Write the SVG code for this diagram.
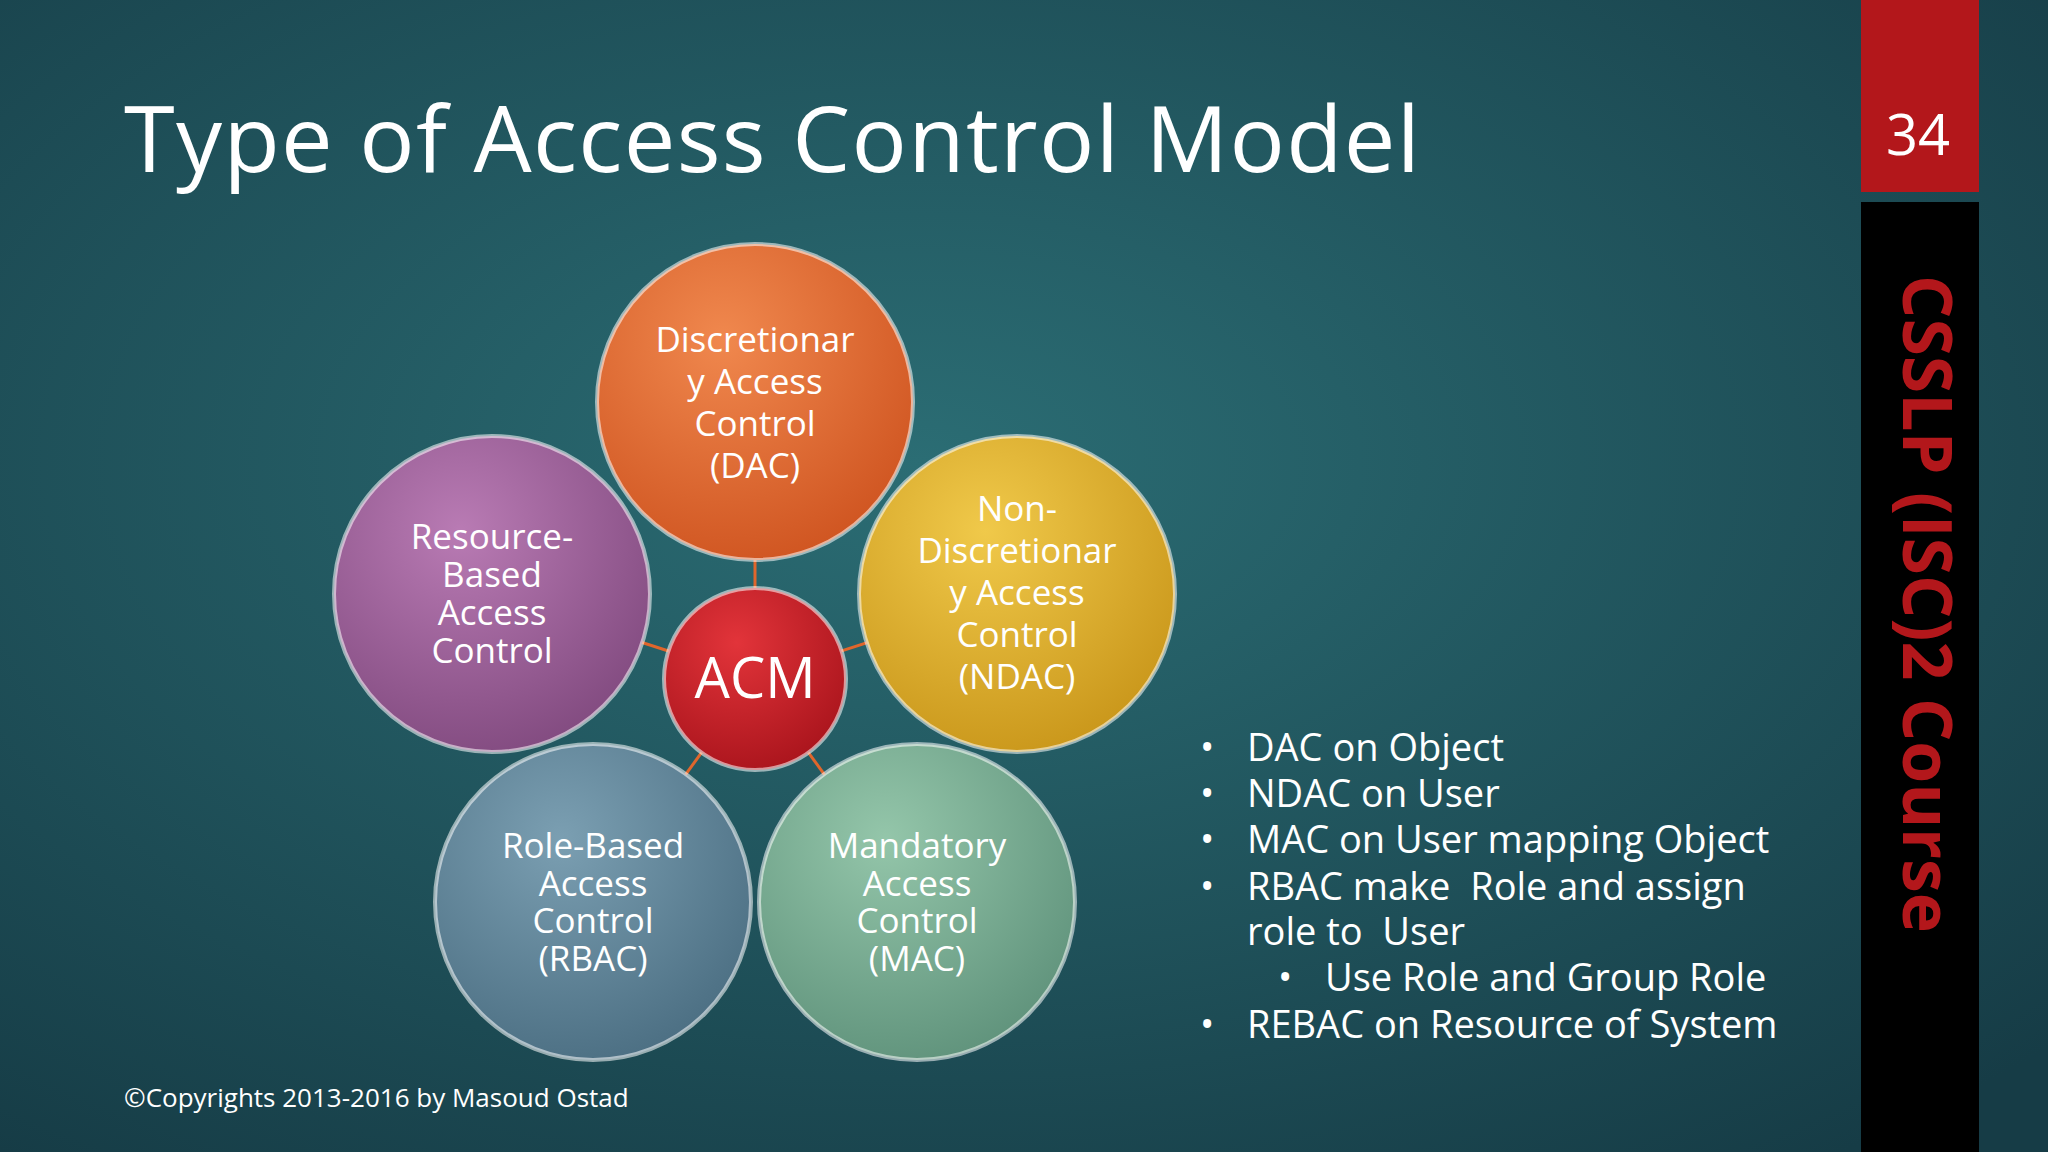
<svg xmlns="http://www.w3.org/2000/svg" width="2048" height="1152" viewBox="0 0 2048 1152">
<defs>
<radialGradient id="bg" cx="0.45" cy="0.4" r="0.75">
<stop offset="0" stop-color="#2b6d74"/><stop offset="1" stop-color="#163c46"/>
</radialGradient>
<radialGradient id="gDAC" cx="0.4" cy="0.3" r="0.75"><stop offset="0" stop-color="#f0884e"/><stop offset="1" stop-color="#cf5420"/></radialGradient>
<radialGradient id="gNDAC" cx="0.4" cy="0.3" r="0.75"><stop offset="0" stop-color="#f0c94a"/><stop offset="1" stop-color="#c9961a"/></radialGradient>
<radialGradient id="gRES" cx="0.4" cy="0.3" r="0.75"><stop offset="0" stop-color="#b97bb4"/><stop offset="1" stop-color="#814a7f"/></radialGradient>
<radialGradient id="gRBAC" cx="0.4" cy="0.3" r="0.75"><stop offset="0" stop-color="#7b9fb2"/><stop offset="1" stop-color="#4b6e82"/></radialGradient>
<radialGradient id="gMAC" cx="0.4" cy="0.3" r="0.75"><stop offset="0" stop-color="#94c6aa"/><stop offset="1" stop-color="#5f927b"/></radialGradient>
<radialGradient id="gACM" cx="0.4" cy="0.3" r="0.75"><stop offset="0" stop-color="#e2343a"/><stop offset="1" stop-color="#a9141c"/></radialGradient>
</defs>
<style>
.c{stroke:#ffffff;stroke-opacity:0.55;stroke-width:4}
.t{font-family:"Open Sans","Liberation Sans",sans-serif;fill:#fff;text-anchor:middle;font-size:35px}
.b{font-family:"Open Sans","Liberation Sans",sans-serif;fill:#fff;font-size:38px}
.ln{stroke:#e0662c;stroke-width:3}
</style>
<rect width="2048" height="1152" fill="url(#bg)"/>
<text x="124" y="172" font-family="'Open Sans','Liberation Sans',sans-serif" font-size="92" fill="#fff" textLength="1296" lengthAdjust="spacing">Type of Access Control Model</text>
<rect x="1861" y="0" width="118" height="192" fill="#b3171b"/>
<text x="1918" y="155" font-family="'Open Sans','Liberation Sans',sans-serif" font-size="56" fill="#fff" text-anchor="middle">34</text>
<rect x="1861" y="202" width="118" height="950" fill="#000"/>
<text transform="translate(1903,604) rotate(90)" font-family="'Open Sans','Liberation Sans',sans-serif" font-weight="bold" font-size="68" fill="#b3171b" text-anchor="middle">CSSLP (ISC)2 Course</text>
<g id="connectors">
<line class="ln" x1="755" y1="679" x2="755" y2="402"/>
<line class="ln" x1="755" y1="679" x2="1017" y2="594"/>
<line class="ln" x1="755" y1="679" x2="492" y2="594"/>
<line class="ln" x1="755" y1="679" x2="593" y2="902"/>
<line class="ln" x1="755" y1="679" x2="917" y2="902"/>
</g>
<g id="dac"><circle class="c" cx="755" cy="402" r="158" fill="url(#gDAC)"/>
<text class="t" x="755" y="352">Discretionar</text><text class="t" x="755" y="394">y Access</text><text class="t" x="755" y="436">Control</text><text class="t" x="755" y="478">(DAC)</text></g>
<g id="ndac"><circle class="c" cx="1017" cy="594" r="158" fill="url(#gNDAC)"/>
<text class="t" x="1017" y="521">Non-</text><text class="t" x="1017" y="563">Discretionar</text><text class="t" x="1017" y="605">y Access</text><text class="t" x="1017" y="647">Control</text><text class="t" x="1017" y="689">(NDAC)</text></g>
<g id="res"><circle class="c" cx="492" cy="594" r="158" fill="url(#gRES)"/>
<text class="t" x="492" y="549">Resource-</text><text class="t" x="492" y="587">Based</text><text class="t" x="492" y="625">Access</text><text class="t" x="492" y="663">Control</text></g>
<g id="rbac"><circle class="c" cx="593" cy="902" r="158" fill="url(#gRBAC)"/>
<text class="t" x="593" y="858">Role-Based</text><text class="t" x="593" y="896">Access</text><text class="t" x="593" y="933">Control</text><text class="t" x="593" y="971">(RBAC)</text></g>
<g id="mac"><circle class="c" cx="917" cy="902" r="158" fill="url(#gMAC)"/>
<text class="t" x="917" y="858">Mandatory</text><text class="t" x="917" y="896">Access</text><text class="t" x="917" y="933">Control</text><text class="t" x="917" y="971">(MAC)</text></g>
<g id="acm"><circle class="c" cx="755" cy="679" r="91" fill="url(#gACM)"/>
<text class="t" x="755" y="698" style="font-size:56px">ACM</text></g>
<g id="bullets">
<text class="b" x="1200" y="761">•</text><text class="b" x="1247" y="761">DAC on Object</text>
<text class="b" x="1200" y="807">•</text><text class="b" x="1247" y="807">NDAC on User</text>
<text class="b" x="1200" y="853">•</text><text class="b" x="1247" y="853">MAC on User mapping Object</text>
<text class="b" x="1200" y="900">•</text><text class="b" x="1247" y="900" xml:space="preserve">RBAC make  Role and assign</text>
<text class="b" x="1247" y="945" xml:space="preserve">role to  User</text>
<text class="b" x="1278" y="991">•</text><text class="b" x="1325" y="991">Use Role and Group Role</text>
<text class="b" x="1200" y="1038">•</text><text class="b" x="1247" y="1038">REBAC on Resource of System</text>
</g>
<text x="124" y="1107" font-family="'Open Sans','Liberation Sans',sans-serif" font-size="26" fill="#fff">©Copyrights 2013-2016 by Masoud Ostad</text>
</svg>
